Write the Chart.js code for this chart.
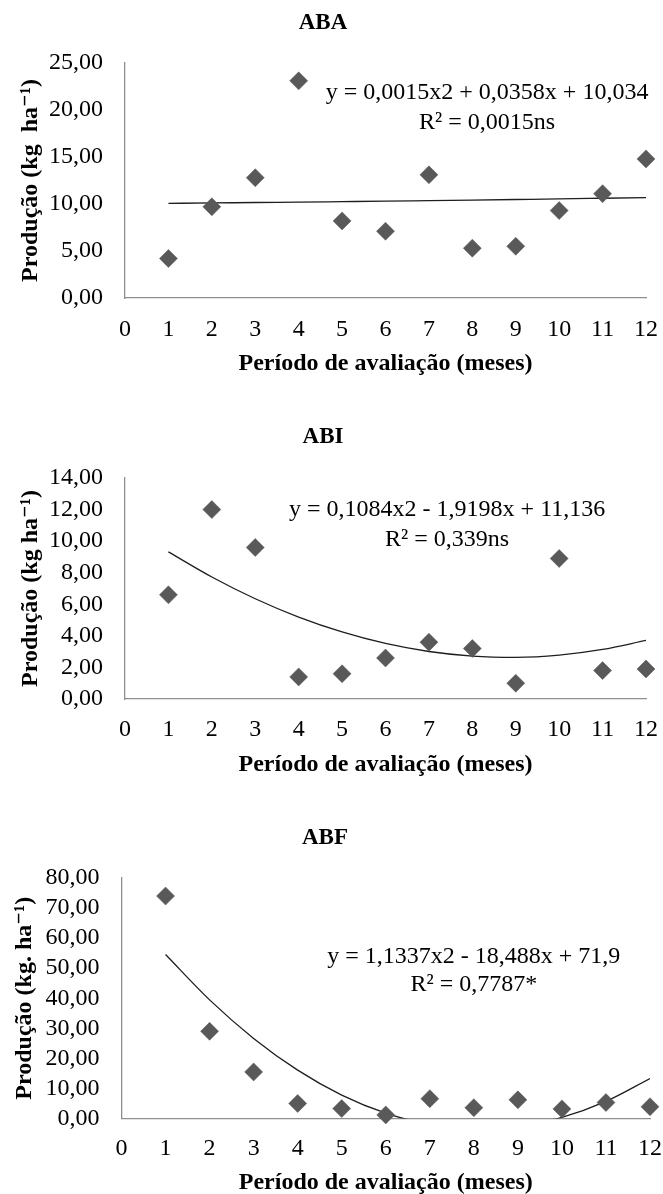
<!DOCTYPE html>
<html>
<head>
<meta charset="utf-8">
<script src="https://cdn.jsdelivr.net/npm/chart.js@4.4.1/dist/chart.umd.min.js"></script>
<style>
html, body { margin: 0; padding: 0; background: #ffffff; }
body { width: 663px; height: 1194px; overflow: hidden; position: relative; }
canvas { position: absolute; left: 0; }
</style>
</head>
<body>
<canvas id="cABA" width="663" height="390" style="top:0px"></canvas>
<canvas id="cABI" width="663" height="410" style="top:390px"></canvas>
<canvas id="cABF" width="663" height="400" style="top:800px"></canvas>
<script>
// ---------- data ----------
const months = [1, 2, 3, 4, 5, 6, 7, 8, 9, 10, 11, 12];
const xTicks = [0, 1, 2, 3, 4, 5, 6, 7, 8, 9, 10, 11, 12];

const abaValues = [4.2, 9.7, 12.8, 23.1, 8.2, 7.1, 13.1, 5.3, 5.5, 9.3, 11.1, 14.8];
const abaTrend  = [10.07, 10.11, 10.16, 10.20, 10.25, 10.30, 10.36, 10.42, 10.48, 10.54, 10.61, 10.68];
const abaYTicks = [0, 5, 10, 15, 20, 25];
const abaEquation = ["y = 0,0015x2 + 0,0358x + 10,034", "R\u00B2 = 0,0015ns"];

const abiValues = [6.6, 12.0, 9.6, 1.4, 1.6, 2.6, 3.6, 3.2, 1.0, 8.9, 1.8, 1.9];
const abiTrend  = [9.32, 7.73, 6.35, 5.19, 4.25, 3.52, 3.01, 2.72, 2.64, 2.78, 3.14, 3.71];
const abiYTicks = [0, 2, 4, 6, 8, 10, 12, 14];
const abiEquation = ["y = 0,1084x2 - 1,9198x + 11,136", "R\u00B2 = 0,339ns"];

const abfValues = [74.0, 29.0, 15.5, 5.0, 3.3, 1.2, 6.6, 3.6, 6.2, 3.2, 5.3, 3.9];
const abfTrend  = [54.55, 39.46, 26.64, 16.09, 7.80, 1.79, -1.97, -3.45, -2.66, 0.39, 5.71, 13.30];
const abfYTicks = [0, 10, 20, 30, 40, 50, 60, 70, 80];
const abfEquation = ["y = 1,1337x2 - 18,488x + 71,9", "R\u00B2 = 0,7787*"];

const xAxisTitle = "Per\u00EDodo de avalia\u00E7\u00E3o (meses)";

// ---------- layout (pixels, per panel) ----------
const layoutABA = { height: 390, titleY: 23, top: 63, bottom: 298, left: 125, right: 646, tickGap: 32, xTitleGap: 66, yTitleX: 31, eqX: 8.34, eqY: [21.8, 18.6] };
const layoutABI = { height: 410, titleY: 47, top: 88, bottom: 309, left: 125, right: 646, tickGap: 31, xTitleGap: 66, yTitleX: 31, eqX: 7.42, eqY: [11.97, 10.07] };
const layoutABF = { height: 400, titleY: 38, top: 78, bottom: 318.5, left: 121.5, right: 650, tickGap: 30, xTitleGap: 64.5, yTitleX: 25, eqX: 8.0, eqY: [53.8, 44.4] };

Chart.defaults.font.family = '"Liberation Serif", "Times New Roman", "DejaVu Serif", serif';
Chart.defaults.color = '#000000';

const eqPlugin = {
  id: 'eq',
  afterDatasetsDraw(chart, args, opts) {
    const { ctx, scales: { x, y } } = chart;
    ctx.save();
    ctx.font = '24px "Liberation Serif", "Times New Roman", serif';
    ctx.fillStyle = '#000000';
    ctx.textAlign = 'center';
    ctx.textBaseline = 'middle';
    opts.lines.forEach((t, i) => {
      ctx.fillText(t, x.getPixelForValue(opts.x), y.getPixelForValue(opts.y[i]));
    });
    ctx.restore();
  }
};

function buildChart(id, L, title, yTitle, values, trend, yTicks, equation) {
  const axisTitleSize = 24;
  const titleSize = 23, titleLH = titleSize * 1.2;
  const tickSize = 24, tickLH = tickSize * 1.2;
  const fmt = v => Number(v).toFixed(2).replace('.', ',');
  new Chart(document.getElementById(id), {
    type: 'scatter',
    data: {
      datasets: [
        {
          type: 'scatter',
          data: months.map((m, i) => ({ x: m, y: values[i] })),
          pointStyle: 'rectRot',
          pointRadius: 9,
          pointHoverRadius: 9,
          backgroundColor: '#595959',
          borderColor: '#595959',
          borderWidth: 0.5,
          clip: false,
          order: 0
        },
        {
          type: 'line',
          data: months.map((m, i) => ({ x: m, y: trend[i] })),
          borderColor: '#1e1e1e',
          borderWidth: 1.3,
          pointRadius: 0,
          pointHoverRadius: 0,
          fill: false,
          tension: 0.4,
          cubicInterpolationMode: 'monotone',
          clip: 0,
          order: 1
        }
      ]
    },
    options: {
      responsive: false,
      animation: false,
      devicePixelRatio: 1,
      events: [],
      layout: {
        padding: {
          top: 0,
          left: 0,
          right: 663 - L.right,
          bottom: L.height - L.bottom - (L.xTitleGap + axisTitleSize / 2)
        }
      },
      plugins: {
        legend: { display: false },
        tooltip: { enabled: false },
        title: {
          display: true,
          text: title,
          color: '#000000',
          font: { size: titleSize, weight: 'bold', lineHeight: 1.2 },
          padding: { top: L.titleY - titleLH / 2, bottom: L.top - L.titleY - titleLH / 2 }
        },
        eq: { lines: equation, x: L.eqX, y: L.eqY }
      },
      scales: {
        x: {
          type: 'linear',
          min: 0,
          max: 12,
          grid: { display: false, drawTicks: false },
          border: { display: true, color: '#8f8f8f', width: 1.3, z: -1 },
          ticks: {
            padding: L.tickGap - tickLH / 2,
            color: '#000000',
            font: { size: tickSize },
            autoSkip: false,
            maxRotation: 0,
            callback: v => String(v)
          },
          afterBuildTicks: s => { s.ticks = xTicks.map(v => ({ value: v })); },
          afterFit: s => {
            s.height = L.xTitleGap + axisTitleSize / 2;
            s.paddingLeft = 0;
            s.paddingRight = 0;
          },
          title: {
            display: true,
            text: xAxisTitle,
            color: '#000000',
            font: { size: axisTitleSize, weight: 'bold', lineHeight: 1 },
            padding: { top: 0, bottom: 0 }
          }
        },
        y: {
          type: 'linear',
          min: yTicks[0],
          max: yTicks[yTicks.length - 1],
          grid: { display: false, drawTicks: false },
          border: { display: true, color: '#8f8f8f', width: 1.3, z: -1 },
          ticks: {
            padding: 22,
            color: '#000000',
            font: { size: tickSize },
            autoSkip: false,
            callback: v => fmt(v)
          },
          afterBuildTicks: s => { s.ticks = yTicks.map(v => ({ value: v })); },
          afterFit: s => {
            s.width = L.left;
            s.paddingTop = 0;
            s.paddingBottom = 0;
          },
          title: {
            display: true,
            text: yTitle,
            color: '#000000',
            font: { size: axisTitleSize, weight: 'bold', lineHeight: 1 },
            padding: { top: L.yTitleX - axisTitleSize / 2, bottom: 0 }
          }
        }
      }
    },
    plugins: [eqPlugin]
  });
}

buildChart('cABA', layoutABA, 'ABA', 'Produ\u00E7\u00E3o (kg  ha\u207B\u00B9)', abaValues, abaTrend, abaYTicks, abaEquation);
buildChart('cABI', layoutABI, 'ABI', 'Produ\u00E7\u00E3o (kg ha\u207B\u00B9)', abiValues, abiTrend, abiYTicks, abiEquation);
buildChart('cABF', layoutABF, 'ABF', 'Produ\u00E7\u00E3o (kg. ha\u207B\u00B9)', abfValues, abfTrend, abfYTicks, abfEquation);
</script>
</body>
</html>
